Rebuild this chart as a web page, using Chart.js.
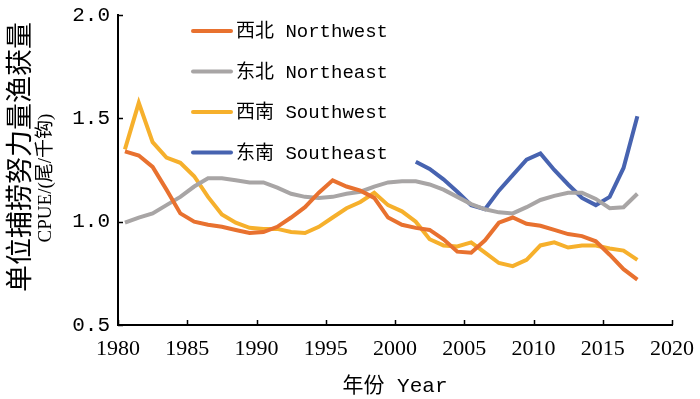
<!DOCTYPE html>
<html>
<head>
<meta charset="utf-8">
<script src="https://cdn.jsdelivr.net/npm/chart.js@4.4.0/dist/chart.umd.min.js"></script>
<style>
  html, body { margin: 0; padding: 0; background: #fff; }
  #wrap { width: 700px; height: 399px; }
</style>
</head>
<body>
<div id="wrap"><canvas id="cpue_chart"></canvas></div>
<script>
// years 1980-2017, values
var years = [1980,1981,1982,1983,1984,1985,1986,1987,1988,1989,
             1990,1991,1992,1993,1994,1995,1996,1997,1998,1999,
             2000,2001,2002,2003,2004,2005,2006,2007,2008,2009,
             2010,2011,2012,2013,2014,2015,2016,2017];

var northwest = [1.34,1.32,1.265,1.155,1.04,1.0,0.985,0.975,0.96,0.945,
                 0.95,0.975,1.02,1.07,1.14,1.2,1.17,1.15,1.115,1.02,
                 0.985,0.97,0.96,0.915,0.855,0.85,0.91,0.995,1.02,0.99,
                 0.98,0.96,0.94,0.93,0.905,0.84,0.77,0.72];

var northeast = [0.995,1.02,1.04,1.08,1.12,1.17,1.21,1.21,1.2,1.19,
                 1.19,1.165,1.135,1.12,1.115,1.12,1.135,1.145,1.17,1.19,
                 1.195,1.195,1.18,1.155,1.12,1.085,1.06,1.045,1.04,1.07,
                 1.105,1.125,1.14,1.14,1.11,1.065,1.07,1.135];

var southwest = [1.35,1.575,1.385,1.31,1.285,1.22,1.12,1.035,0.995,0.97,
                 0.965,0.965,0.95,0.945,0.975,1.02,1.065,1.095,1.14,1.08,
                 1.05,1.0,0.915,0.885,0.88,0.9,0.85,0.8,0.785,0.815,
                 0.885,0.9,0.875,0.885,0.885,0.87,0.86,0.815];

// southeast series only starts in 2001
var southeast = [null,null,null,null,null,null,null,null,null,null,
                 null,null,null,null,null,null,null,null,null,null,
                 null,1.29,1.255,1.205,1.145,1.08,1.06,1.15,1.225,1.30,
                 1.33,1.25,1.18,1.115,1.08,1.12,1.26,1.51];

var seriesNames = ['西北 Northwest', '东北 Northeast', '西南 Southwest', '东南 Southeast'];
var seriesColors = ['#E8712F', '#A8A5A5', '#F6B02C', '#4763B0'];
var xTicks = [1980, 1985, 1990, 1995, 2000, 2005, 2010, 2015, 2020];
var yTicks = [0.5, 1.0, 1.5, 2.0];

var cjk = '"Noto Sans CJK SC"';
var monoFont = '"Liberation Mono", ' + cjk;

// points are plotted at mid-year
function toPoints(vals) {
    var pts = [];
    for (var i = 0; i < years.length; i++) {
        if (vals[i] !== null) pts.push({x: years[i] + 0.5, y: vals[i]});
    }
    return pts;
}

var allSeries = [northwest, northeast, southwest, southeast];
var datasets = [];
for (var k = 0; k < allSeries.length; k++) {
    datasets.push({
        label: seriesNames[k],
        data: toPoints(allSeries[k]),
        borderColor: seriesColors[k],
        backgroundColor: seriesColors[k],
        borderWidth: 4,
        pointRadius: 0,
        tension: 0,
        fill: false
    });
}

// inward ticks, y axis title and legend drawn on top
var extras = {
    id: 'extras',
    afterDraw: function(chart) {
        var ctx = chart.ctx;
        var area = chart.chartArea;
        var xs = chart.scales.x, ys = chart.scales.y;
        ctx.save();
        ctx.strokeStyle = '#000';
        ctx.lineWidth = 1.5;
        xTicks.forEach(function(v) {
            var px = Math.round(xs.getPixelForValue(v)) + 0.5;
            ctx.beginPath();
            ctx.moveTo(px, area.bottom);
            ctx.lineTo(px, area.bottom - 5);
            ctx.stroke();
        });
        yTicks.forEach(function(v) {
            var py = Math.round(ys.getPixelForValue(v)) + 0.5;
            ctx.beginPath();
            ctx.moveTo(area.left, py);
            ctx.lineTo(area.left + 5, py);
            ctx.stroke();
        });

        // y title, two lines
        ctx.fillStyle = '#000';
        ctx.textAlign = 'center';
        ctx.textBaseline = 'middle';
        ctx.save();
        ctx.translate(19, 157);
        ctx.rotate(-Math.PI / 2);
        ctx.font = '27px ' + cjk;
        ctx.fillText('单位捕捞努力量渔获量', 0, 0);
        ctx.restore();
        ctx.save();
        ctx.translate(46, 178);
        ctx.rotate(-Math.PI / 2);
        ctx.font = '19px "Liberation Serif", ' + cjk;
        ctx.fillText('CPUE/(尾/千钩)', 0, 0);
        ctx.restore();

        // legend inside plot
        var lx = area.left + 75, ly = area.top + 16;
        chart.data.datasets.forEach(function(ds, i) {
            var y = ly + i * 40.5;
            ctx.strokeStyle = ds.borderColor;
            ctx.lineWidth = 4;
            ctx.lineCap = 'round';
            ctx.beginPath();
            ctx.moveTo(lx, y);
            ctx.lineTo(lx + 38, y);
            ctx.stroke();
            ctx.fillStyle = '#000';
            ctx.textAlign = 'left';
            ctx.font = '19px ' + monoFont;
            ctx.fillText(ds.label, lx + 43, y + 1);
        });
        ctx.restore();
    }
};

var ctxCpue = document.getElementById('cpue_chart').getContext('2d');

var cpue_chart = new Chart(ctxCpue, {
    type: 'line',
    data: { datasets: datasets },
    options: {
        responsive: true,
        maintainAspectRatio: false,
        animation: false,
        layout: { padding: { top: 15, right: 28, left: 0, bottom: 0 } },
        plugins: {
            legend: { display: false },
            tooltip: { enabled: false }
        },
        scales: {
            x: {
                type: 'linear',
                min: 1980,
                max: 2020,
                grid: { display: false, drawTicks: false },
                border: { display: true, color: '#000', width: 2 },
                afterBuildTicks: function(scale) {
                    scale.ticks = xTicks.map(function(v) { return {value: v}; });
                },
                ticks: {
                    color: '#000',
                    padding: 11,
                    maxRotation: 0,
                    font: { family: '"Liberation Serif"', size: 22 },
                    callback: function(v) { return String(v); }
                },
                title: {
                    display: true,
                    text: '年份 Year',
                    color: '#000',
                    padding: { top: 6, bottom: 0 },
                    font: { family: monoFont, size: 21 }
                },
                afterFit: function(scale) {
                    scale.height = 74;
                    scale.paddingLeft = 0;
                    scale.paddingRight = 0;
                }
            },
            y: {
                min: 0.5,
                max: 2.0,
                grid: { display: false, drawTicks: false },
                border: { display: true, color: '#000', width: 2 },
                afterBuildTicks: function(scale) {
                    scale.ticks = yTicks.map(function(v) { return {value: v}; });
                },
                ticks: {
                    color: '#000',
                    padding: 8,
                    font: { family: '"Liberation Mono"', size: 21 },
                    callback: function(v) { return v.toFixed(1); }
                },
                afterFit: function(scale) {
                    scale.width = 118;
                    scale.paddingTop = 0;
                    scale.paddingBottom = 0;
                }
            }
        }
    },
    plugins: [extras]
});
</script>
</body>
</html>
